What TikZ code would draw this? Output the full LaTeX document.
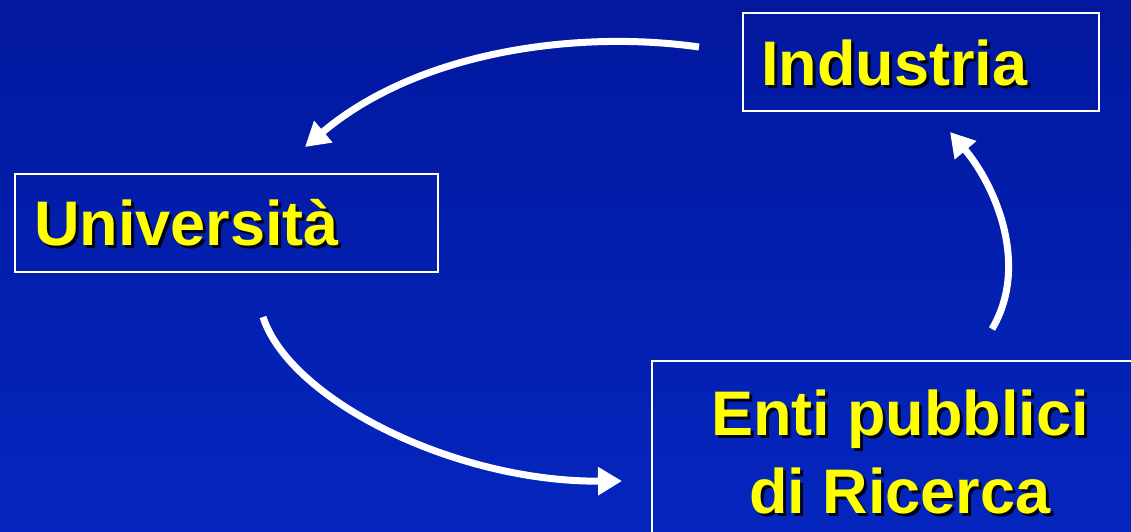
\documentclass[tikz,border=0pt]{standalone}
\usepackage{fontspec}
\setmainfont{Liberation Sans}
\usetikzlibrary{arrows.meta}
\definecolor{bgtop}{RGB}{2,24,158}
\definecolor{bgbot}{RGB}{4,38,190}
\definecolor{lab}{RGB}{255,255,0}
\tikzset{
  box/.style={draw=white, line width=2pt, inner sep=0pt, anchor=north west},
  lbl/.style={inner sep=0pt, font=\fontsize{63}{78}\selectfont\bfseries, text=lab},
  shd/.style={inner sep=0pt, font=\fontsize{63}{78}\selectfont\bfseries, text=black, text opacity=0.85},
  flow/.style={draw=white, line width=7pt, -{Triangle[length=24pt,width=27pt]}},
}
\begin{document}
\begin{tikzpicture}[x=1pt,y=-1pt]
\fill[top color=bgtop,bottom color=bgbot] (0,0) rectangle (1131,531);
\useasboundingbox (0,0) rectangle (1131,531);
\clip (0,0) rectangle (1131,531);
% boxes
\node[box, minimum width=356pt, minimum height=98pt] (indbox) at (742,12) {};
\node[box, minimum width=423pt, minimum height=98pt] (unibox) at (14,173) {};
\node[box, minimum width=520pt, minimum height=220pt] (entbox) at (651,360) {};
% labels with shadow
\node[shd, anchor=base west] (indsh) at (764,88) {Industria};
\node[lbl, anchor=base west] (ind) at (761,85) {Industria};
\node[shd, anchor=base west] (unish) at (37,248) {Università};
\node[lbl, anchor=base west] (uni) at (34,245) {Università};
\node[shd, anchor=base] (ent1sh) at (903,438) {Enti pubblici};
\node[lbl, anchor=base] (ent1) at (900,435) {Enti pubblici};
\node[shd, anchor=base] (ent2sh) at (903,516) {di Ricerca};
\node[lbl, anchor=base] (ent2) at (900,513) {di Ricerca};
% connectors
\coordinate (a1s) at (699,47);
\coordinate (a1e) at (305,147);
\coordinate (a2s) at (263,317);
\coordinate (a2e) at (622,481);
\coordinate (a3s) at (992,329);
\coordinate (a3e) at (950,132);
\draw[flow] (a1s) .. controls (580,30) and (420,50) .. (a1e);
\draw[flow] (a2s) .. controls (290,400) and (455,482) .. (a2e);
\draw[flow] (a3s) .. controls (1030,265) and (995,185) .. (a3e);
\end{tikzpicture}
\end{document}
